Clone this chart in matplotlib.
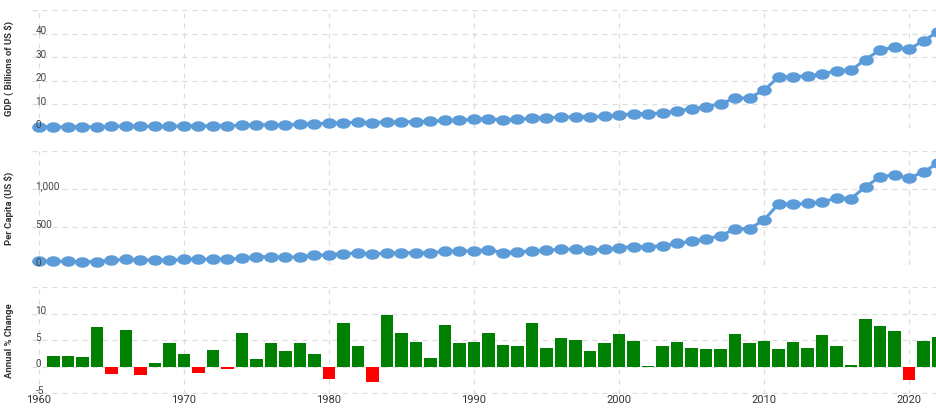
import matplotlib

matplotlib.use("Agg")
import matplotlib.pyplot as plt
import matplotlib.path as mpath
import numpy as np

BLUE = "#5b9bd8"
GREEN = "#008000"
RED = "#ff0000"
GRID = "#dcdcdc"
TXT = "#444444"

years = list(range(1960, 2023))

gdp_bn = [0.51, 0.49, 0.50, 0.46, 0.49, 0.70, 0.87, 0.79, 0.72, 0.75,
          0.90, 0.95, 0.93, 0.98, 1.17, 1.46, 1.40, 1.37, 1.56, 1.80,
          1.95, 2.27, 2.39, 2.33, 2.52, 2.58, 2.75, 2.77, 3.18, 3.26,
          3.63, 3.92, 3.40, 3.66, 4.07, 4.40, 4.52, 4.85, 4.80, 4.95,
          5.49, 6.01, 6.05, 6.33, 7.27, 8.13, 9.04, 10.33, 12.55, 12.85,
          16.00, 21.57, 21.70, 22.16, 22.73, 24.36, 24.52, 28.97, 33.11, 34.19,
          33.43, 36.93, 40.83]

per_capita = [50, 48, 48, 43, 45, 62, 76, 68, 61, 62,
              74, 77, 74, 77, 90, 111, 104, 99, 110, 126,
              133, 151, 155, 148, 157, 156, 164, 160, 180, 180,
              190, 198, 164, 172, 185, 195, 204, 209, 200, 204,
              226, 243, 240, 254, 283, 312, 343, 386, 472, 478,
              592, 804, 798, 812, 829, 880, 875, 1028, 1162, 1185,
              1139, 1229, 1337]

change_years = list(range(1961, 2023))
annual_change = [2.0, 2.0, 1.8, 7.5, -1.3, 7.0, -1.6, 0.8, 4.5,
                 2.5, -1.2, 3.1, -0.4, 6.3, 1.5, 4.4, 3.0, 4.4, 2.4,
                 -2.3, 8.3, 3.9, -2.9, 9.8, 6.3, 4.6, 1.7, 7.8, 4.4,
                 4.6, 6.4, 4.1, 3.9, 8.2, 3.5, 5.4, 5.1, 3.0, 4.4,
                 6.2, 4.8, 0.2, 4.0, 4.7, 3.5, 3.4, 3.4, 6.1, 4.5,
                 4.8, 3.4, 4.7, 3.5, 6.0, 4.0, 0.4, 9.0, 7.7, 6.7,
                 -2.4, 4.8, 5.6]

decades = [1960, 1970, 1980, 1990, 2000, 2010, 2020]

plt.rcParams["font.family"] = ["Roboto", "DejaVu Sans"]

W, H = 936, 409
fig = plt.figure(figsize=(W / 100, H / 100), dpi=100)
fig.patch.set_facecolor("white")


def px_axes(top, bottom, left=32, right=936):
    return fig.add_axes([left / W, 1 - bottom / H, (right - left) / W, (bottom - top) / H])


# ellipse marker (the reference is stretched horizontally)
t = np.linspace(0, 2 * np.pi, 41)
verts = np.column_stack([1.45 * np.cos(t), np.sin(t)])
codes = [mpath.Path.MOVETO] + [mpath.Path.LINETO] * 39 + [mpath.Path.CLOSEPOLY]
ELLIPSE = mpath.Path(verts, codes)

ax1 = px_axes(10, 128)
ax2 = px_axes(151, 265)
ax3 = px_axes(287, 394)

panels = [
    (ax1, (0, 50), [0, 10, 20, 30, 40, 50], ["0", "10", "20", "30", "40"], "GDP ( Billions of US $)"),
    (ax2, (0, 1500), [0, 500, 1000, 1500], ["0", "500", "1,000"], "Per Capita (US $)"),
    (ax3, (-5.1, 15), [-5, 0, 5, 10, 15], ["-5", "0", "5", "10"], "Annual % Change"),
]

for ax, ylim, yt, ylabels, title in panels:
    ax.set_xlim(1959.52, 2021.86)
    ax.set_ylim(*ylim)
    for s in ax.spines.values():
        s.set_visible(False)
    ax.set_yticks(yt)
    ax.set_xticks(decades)
    ax.tick_params(length=0, labelleft=False, labelbottom=False)
    ax.grid(True, color=GRID, lw=0.9, ls=(0, (4, 4)), zorder=0)
    ax.set_axisbelow(True)
    for v, lab in zip(yt, ylabels):
        ax.annotate(lab, (0, v), xycoords=("axes fraction", "data"),
                    xytext=(2.5, 1.8), textcoords="offset points",
                    ha="left", va="center", fontsize=7.2, color=TXT, zorder=5)
    ax.set_ylabel(title, fontsize=6.8, fontweight="bold", color="#333333", labelpad=2)
    ax.yaxis.set_label_coords(-18 / (936 - 32), 0.5)
    ax.patch.set_alpha(0)

ax1.plot(years, gdp_bn, color=BLUE, lw=2.2, marker=ELLIPSE, ms=9.5,
         mec=BLUE, mfc=BLUE, zorder=3, clip_on=False)
ax2.plot(years, per_capita, color=BLUE, lw=2.2, marker=ELLIPSE, ms=9.5,
         mec=BLUE, mfc=BLUE, zorder=3, clip_on=False)

colors = [GREEN if v >= 0 else RED for v in annual_change]
ax3.bar(change_years, annual_change, width=0.86, color=colors,
        edgecolor="none", zorder=3)

ax3.tick_params(labelbottom=True, pad=1)
ax3.set_xticklabels([str(d) for d in decades], fontsize=8.0, color="#333333")

fig.savefig("out.png", dpi=100, facecolor="white")
